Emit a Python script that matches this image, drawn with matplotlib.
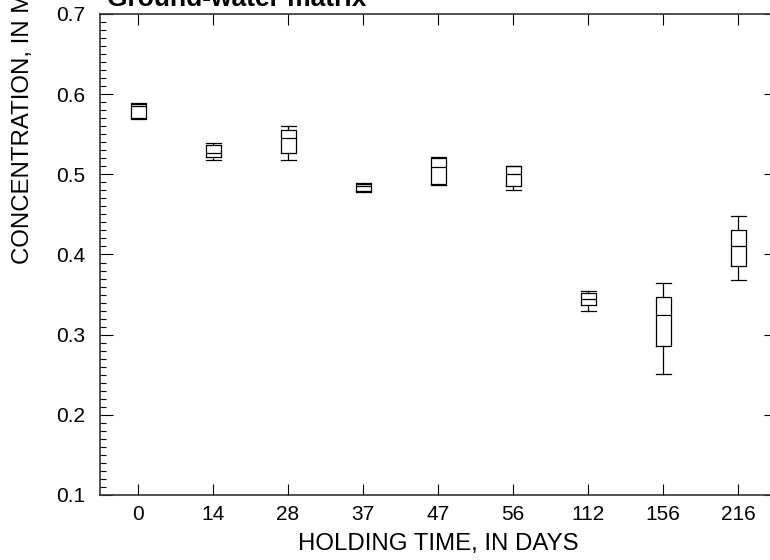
import matplotlib
matplotlib.use("Agg")
import matplotlib.pyplot as plt
from matplotlib.ticker import MultipleLocator

plt.rcParams['font.family'] = ['Liberation Sans', 'DejaVu Sans']

# ---------------------------------------------------------
# Dati (concentrazione per tempo di conservazione)
# ---------------------------------------------------------
giorni = ["0", "14", "28", "37", "47", "56", "112", "156", "216"]
whis_lo = [0.569, 0.518, 0.518, 0.478, 0.487, 0.481, 0.330, 0.251, 0.368]
q1 = [0.570, 0.522, 0.527, 0.479, 0.488, 0.486, 0.337, 0.286, 0.386]
mediana = [0.585, 0.527, 0.545, 0.486, 0.509, 0.500, 0.344, 0.325, 0.410]
q3 = [0.588, 0.537, 0.555, 0.488, 0.520, 0.510, 0.352, 0.347, 0.430]
whis_hi = [0.589, 0.539, 0.560, 0.489, 0.522, 0.511, 0.354, 0.365, 0.448]

stats = []
for g, lo, a, m, b, hi in zip(giorni, whis_lo, q1, mediana, q3, whis_hi):
    stats.append({"label": g, "whislo": lo, "q1": a, "med": m,
                  "q3": b, "whishi": hi, "fliers": []})

fig = plt.figure(figsize=(7.7, 5.6), dpi=100)
ax = fig.add_axes([100.5 / 770, 65 / 560, 675 / 770, 481 / 560])

lw = 0.9
ax.bxp(stats, positions=range(1, len(giorni) + 1), widths=0.2,
       showfliers=False, capwidths=0.2,
       boxprops=dict(color="black", linewidth=lw),
       whiskerprops=dict(color="black", linewidth=lw),
       capprops=dict(color="black", linewidth=lw),
       medianprops=dict(color="black", linewidth=lw))

ax.set_xlim(0.5, 9.5)
ax.set_ylim(0.1, 0.7)
ax.yaxis.set_major_locator(MultipleLocator(0.1))
ax.yaxis.set_minor_locator(MultipleLocator(0.01))
ax.set_yticklabels([f"{v:.1f}" for v in ax.get_yticks()])

ax.tick_params(axis="x", which="major", direction="in", length=8,
               width=0.8, top=True, labelsize=15, pad=7.5)
ax.tick_params(axis="y", which="major", direction="in", length=9,
               width=0.8, right=True, labelsize=15, pad=11)
ax.tick_params(axis="y", which="minor", direction="in", length=4.5,
               width=0.8, right=True)
for s in ax.spines.values():
    s.set_linewidth(1.2)
    s.set_color("#333333")

ax.set_xlabel("HOLDING TIME, IN DAYS", fontsize=17.3, labelpad=6)
fig.text(23 / 770, 1 - 264 / 560, "CONCENTRATION, IN MICROGRAMS PER LITER",
         rotation=90, ha="center", va="bottom", fontsize=17.3)
fig.text(107 / 770, 1 - 5.5 / 560, "Ground-water matrix", fontsize=19,
         fontweight="bold", ha="left", va="baseline")

fig.savefig("out.png", dpi=100)
